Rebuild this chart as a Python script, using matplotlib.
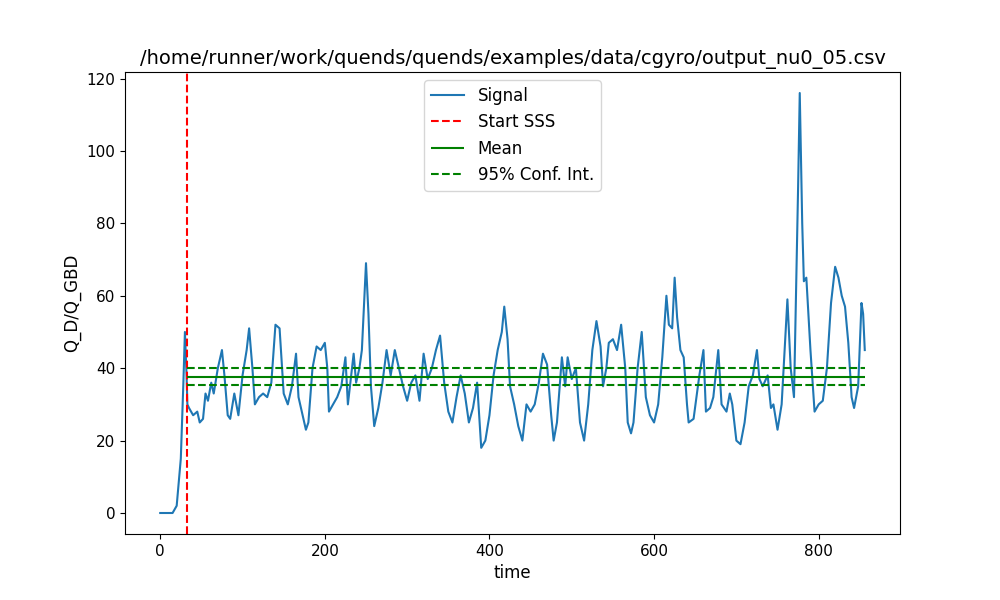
import matplotlib
matplotlib.use("Agg")
import matplotlib.pyplot as plt

# signal keypoints (time, Q_D/Q_GBD)
time = [0, 15, 20, 25, 28, 30, 32, 33, 35, 40, 45, 48, 52, 55, 58, 62, 65, 70, 75, 78,
        82, 85, 90, 95, 100, 105, 108, 112, 115, 120, 125, 130, 135, 140, 145, 148, 150,
        155, 160, 165, 168, 172, 177, 180, 185, 190, 195, 200, 203, 205, 210, 215, 220,
        225, 228, 232, 235, 238, 242, 245, 250, 253, 256, 260, 265, 270, 275, 280, 285,
        290, 295, 300, 305, 310, 315, 320, 325, 330, 335, 340, 345, 350, 355, 360, 365,
        370, 375, 380, 385, 390, 395, 400, 405, 410, 415, 418, 422, 425, 430, 435, 440,
        445, 450, 455, 460, 465, 470, 475, 478, 482, 488, 492, 495, 500, 505, 510, 515,
        520, 525, 530, 535, 538, 542, 545, 550, 555, 560, 565, 568, 572, 575, 580, 585,
        590, 595, 600, 605, 610, 615, 618, 622, 625, 628, 632, 636, 640, 642, 648, 655,
        660, 663, 668, 672, 678, 682, 688, 692, 695, 700, 705, 710, 715, 720, 725, 728,
        732, 738, 742, 745, 750, 755, 762, 766, 770, 775, 777, 780, 782, 785, 790, 795,
        800, 805, 810, 815, 820, 824, 828, 832, 836, 840, 843, 848, 852, 854, 856]
signal = [0, 0, 2, 15, 35, 50, 38, 30, 29, 27, 28, 25, 26, 33, 31, 36, 33, 40, 45, 38,
          27, 26, 33, 27, 38, 45, 51, 40, 30, 32, 33, 32, 36, 52, 51, 40, 33,
          30, 35, 44, 32, 28, 23, 25, 40, 46, 45, 47, 40, 28, 30, 32, 35,
          43, 30, 38, 44, 36, 40, 45, 69, 55, 35, 24, 29, 36, 45, 38, 45,
          40, 35, 31, 36, 38, 31, 44, 37, 40, 45, 49, 36, 28, 25, 32, 38,
          33, 25, 29, 36, 18, 20, 27, 38, 45, 50, 57, 48, 35, 30, 24, 20,
          30, 28, 30, 36, 44, 41, 27, 20, 25, 43, 35, 43, 37, 40, 25, 20,
          30, 45, 53, 46, 35, 40, 47, 48, 45, 52, 40, 25, 22, 25, 40, 50,
          32, 27, 25, 30, 43, 60, 52, 51, 65, 54, 45, 43, 30, 25, 26, 38,
          45, 28, 29, 32, 45, 30, 28, 33, 30, 20, 19, 25, 35, 38, 45, 37,
          35, 38, 29, 30, 23, 30, 59, 40, 32, 90, 116, 80, 64, 65, 45, 28,
          30, 31, 40, 58, 68, 65, 60, 57, 47, 32, 29, 35, 58, 55, 45]

start_sss = 32
mean = 37.7
ci_low, ci_high = 35.3, 40.1

fig, ax = plt.subplots(figsize=(10, 6), dpi=100)
ax.plot(time, signal, label="Signal")
ax.axvline(start_sss, color="r", linestyle="--", label="Start SSS")
ax.hlines(mean, start_sss, time[-1], color="g", label="Mean")
ax.hlines([ci_low, ci_high], start_sss, time[-1], color="g", linestyle="--",
          label="95% Conf. Int.")
ax.set_xlabel("time", fontsize=12)
ax.set_ylabel("Q_D/Q_GBD", fontsize=12)
ax.set_title("/home/runner/work/quends/quends/examples/data/cgyro/output_nu0_05.csv", fontsize=14)
ax.tick_params(labelsize=11)
ax.legend(loc="upper center", fontsize=12)
plt.savefig("out.png")
